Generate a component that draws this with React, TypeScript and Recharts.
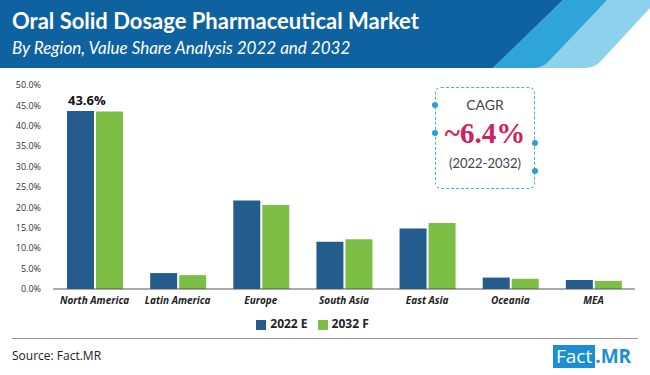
import React from "react";
import { BarChart, Bar, XAxis, YAxis, Legend } from "recharts";

const regions = ["North America", "Latin America", "Europe", "South Asia", "East Asia", "Oceania", "MEA"];
const share2022 = [43.6, 3.9, 21.7, 11.6, 14.8, 2.8, 2.2];
const share2032 = [43.5, 3.4, 20.6, 12.2, 16.2, 2.5, 2.0];
const yTicks = [0, 5, 10, 15, 20, 25, 30, 35, 40, 45, 50];

const data = regions.map((region, i) => ({
  region,
  e2022: share2022[i],
  f2032: share2032[i],
}));

const BLUE = "#245d8d";
const GREEN = "#7dbe45";
const font = "'Open Sans', 'DejaVu Sans', sans-serif";

const TopLabel = (props: any) => {
  const { x, y, index, value } = props;
  if (index !== 0) return null;
  return (
    <text x={x + 1} y={y - 6} fontSize={13} fontWeight={700} fill="#111" fontFamily={font}>
      {value.toFixed(1)}%
    </text>
  );
};

const Header = () => (
  <div style={{ position: "absolute", left: 0, top: 0, width: 650, height: 68 }}>
    <svg width={650} height={68} style={{ position: "absolute", left: 0, top: 0 }}>
      <rect x={0} y={0} width={650} height={68} fill="#fff" />
      <path d="M607,0 L650,0 L650,8 L600,62 Q594,68 584,68 L530,68 Z" fill="#8ed1ec" />
      <path d="M563,0 L607,0 L548,62 Q542,68 532,68 L493,68 Z" fill="#2ea4d8" />
      <polygon points="0,0 563,0 493,68 0,68" fill="#0f62a0" />
    </svg>
    <div
      style={{
        position: "absolute",
        left: 12,
        top: 7,
        color: "#fff",
        fontFamily: "Lato, sans-serif",
        fontWeight: 700,
        fontSize: 22,
        whiteSpace: "nowrap",
      }}
    >
      Oral Solid Dosage Pharmaceutical Market
    </div>
    <div
      style={{
        position: "absolute",
        left: 12,
        top: 37,
        color: "#fff",
        fontFamily: "Lato, sans-serif",
        fontStyle: "italic",
        fontSize: 17,
        whiteSpace: "nowrap",
      }}
    >
      By Region, Value Share Analysis 2022 and 2032
    </div>
  </div>
);

const Dot = ({ x, y }: { x: number; y: number }) => (
  <div
    style={{
      position: "absolute",
      left: x - 3,
      top: y - 3,
      width: 6,
      height: 6,
      borderRadius: 3,
      background: "#2a9fd8",
    }}
  />
);

const CagrBox = () => (
  <div style={{ position: "absolute", left: 0, top: 0 }}>
    <div
      style={{
        position: "absolute",
        left: 435,
        top: 87,
        width: 100,
        height: 102,
        border: "1.5px dashed #4aaee0",
        borderRadius: 6,
        boxSizing: "border-box",
        textAlign: "center",
      }}
    >
      <div style={{ marginTop: 8, fontFamily: "Lato, sans-serif", fontSize: 14, color: "#444" }}>CAGR</div>
      <div
        style={{
          marginTop: 2,
          fontFamily: "'Liberation Serif', serif",
          fontWeight: 700,
          fontSize: 29,
          color: "#d1205c",
          lineHeight: "36px",
        }}
      >
        ~6.4%
      </div>
      <div style={{ marginTop: 4, fontFamily: "Lato, sans-serif", fontSize: 13, color: "#444" }}>
        (2022-2032)
      </div>
    </div>
    <Dot x={435} y={105} />
    <Dot x={435} y={133} />
    <Dot x={535} y={143} />
    <Dot x={535} y={171} />
  </div>
);

const Footer = () => (
  <div style={{ position: "absolute", left: 0, top: 0 }}>
    <div style={{ position: "absolute", left: 12, top: 338, width: 626, height: 1, background: "#999" }} />
    <div
      style={{
        position: "absolute",
        left: 12,
        top: 347,
        fontFamily: "'Open Sans', sans-serif",
        fontSize: 12,
        color: "#222",
        whiteSpace: "nowrap",
      }}
    >
      Source: Fact.MR
    </div>
    <div style={{ position: "absolute", left: 553, top: 345, height: 23, display: "flex", alignItems: "center" }}>
      <div
        style={{
          background: "#1b8fd2",
          color: "#fff",
          fontFamily: "'Open Sans', sans-serif",
          fontSize: 19,
          lineHeight: "23px",
          padding: "0 3px",
        }}
      >
        Fact
      </div>
      <div
        style={{
          color: "#1b8fd2",
          fontFamily: "'Open Sans', sans-serif",
          fontWeight: 700,
          fontSize: 19,
          lineHeight: "23px",
        }}
      >
        .MR
      </div>
    </div>
  </div>
);

export default function App() {
  return (
    <div
      style={{
        position: "absolute",
        left: 0,
        top: 0,
        width: 650,
        height: 375,
        background: "#fff",
        overflow: "hidden",
      }}
    >
      <Header />
      <div style={{ position: "absolute", left: 0, top: 70 }}>
        <BarChart
          width={650}
          height={262}
          data={data}
          margin={{ top: 15, right: 15, left: 0, bottom: 0 }}
          barGap={2}
          barCategoryGap={0}
        >
          <XAxis
            dataKey="region"
            axisLine={{ stroke: "#555" }}
            tickLine={false}
            interval={0}
            height={26}
            tick={{ fontSize: 10, fontStyle: "italic", fontWeight: 700, fill: "#222", fontFamily: font }}
          />
          <YAxis
            domain={[0, 50]}
            ticks={yTicks}
            width={53}
            axisLine={false}
            tickLine={false}
            tickMargin={6}
            tickFormatter={(v: number) => `${v.toFixed(1)}%`}
            tick={{ fontSize: 9, fill: "#333", fontFamily: font }}
          />
          <Legend
            verticalAlign="bottom"
            iconType="square"
            iconSize={10}
            wrapperStyle={{ fontFamily: font, fontSize: 12, fontWeight: 700 }}
            formatter={(value: string) => <span style={{ color: "#222" }}>{value}</span>}
          />
          <Bar dataKey="e2022" name="2022 E" fill={BLUE} barSize={27} isAnimationActive={false} label={<TopLabel />} />
          <Bar dataKey="f2032" name="2032 F" fill={GREEN} barSize={27} isAnimationActive={false} />
        </BarChart>
      </div>
      <CagrBox />
      <Footer />
    </div>
  );
}
